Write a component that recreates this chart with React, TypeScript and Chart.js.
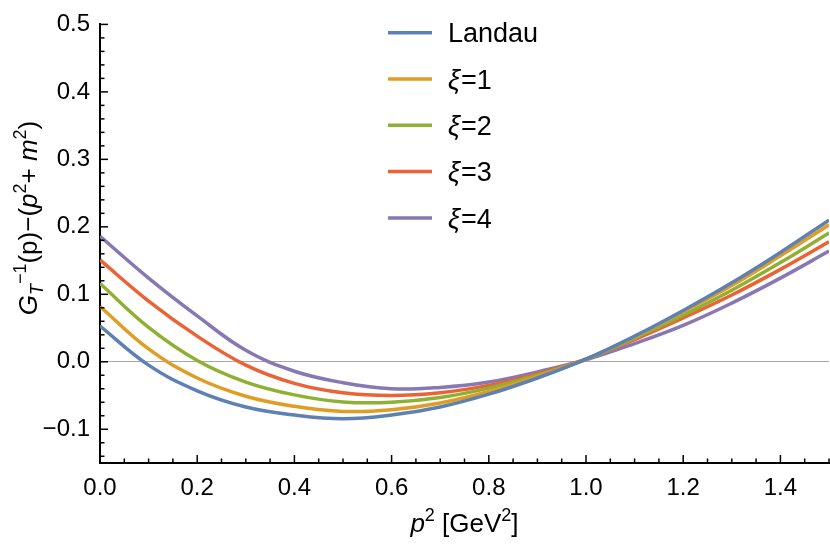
import React, { useEffect, useRef } from "react";
import { Chart, registerables } from "chart.js";

Chart.register(...registerables);

// p^2 grid (GeV^2)
const P2 = [0, 0.1, 0.2, 0.3, 0.4, 0.5, 0.6, 0.7, 0.8, 0.9, 1.0, 1.1, 1.2, 1.3, 1.4, 1.5];

const LANDAU = [0.053, -0.005, -0.043, -0.067, -0.079, -0.0845, -0.079, -0.067, -0.048, -0.024, 0.004, 0.038, 0.076, 0.117, 0.162, 0.21];
const XI1 = [0.082, 0.019, -0.024, -0.051, -0.066, -0.0735, -0.071, -0.061, -0.044, -0.022, 0.004, 0.037, 0.074, 0.113, 0.157, 0.203];
const XI2 = [0.116, 0.051, 0.002, -0.03, -0.049, -0.0595, -0.06, -0.053, -0.039, -0.02, 0.004, 0.035, 0.069, 0.106, 0.147, 0.191];
const XI3 = [0.151, 0.09, 0.038, -0.005, -0.032, -0.046, -0.05, -0.046, -0.035, -0.018, 0.004, 0.033, 0.065, 0.099, 0.137, 0.178];
const XI4 = [0.186, 0.124, 0.068, 0.017, -0.014, -0.031, -0.04, -0.038, -0.03, -0.015, 0.003, 0.027, 0.054, 0.087, 0.124, 0.164];

const SERIES = [LANDAU, XI1, XI2, XI3, XI4];
const LABELS = ["Landau", "ξ=1", "ξ=2", "ξ=3", "ξ=4"];
const COLORS = ["#5E81B5", "#E19C24", "#8FB032", "#EB6235", "#8778B3"];

const X_TICKS = [0, 0.2, 0.4, 0.6, 0.8, 1.0, 1.2, 1.4];
const Y_TICKS = [-0.1, 0, 0.1, 0.2, 0.3, 0.4, 0.5];

const FONT = '"Liberation Sans", Arial, Helvetica, sans-serif';

type Run = { t: string; italic?: boolean; size: number; dy: number };

const Y_TITLE: Run[] = [
  { t: "G", italic: true, size: 26, dy: 0 },
  { t: "T", italic: true, size: 18, dy: 6 },
  { t: "−1", size: 18, dy: -11 },
  { t: "(p)−(", size: 26, dy: 0 },
  { t: "p", italic: true, size: 26, dy: 0 },
  { t: "2", size: 18, dy: -11 },
  { t: "+ ", size: 26, dy: 0 },
  { t: "m", italic: true, size: 26, dy: 0 },
  { t: "2", size: 18, dy: -11 },
  { t: ")", size: 26, dy: 0 },
];

const X_TITLE: Run[] = [
  { t: "p", italic: true, size: 26, dy: 0 },
  { t: "2", size: 18, dy: -11 },
  { t: " [GeV", size: 26, dy: 0 },
  { t: "2", size: 18, dy: -11 },
  { t: "]", size: 26, dy: 0 },
];

function fontOf(r: Run) {
  return `${r.italic ? "italic " : ""}${r.size}px ${FONT}`;
}

function drawRuns(ctx: CanvasRenderingContext2D, runs: Run[]) {
  let total = 0;
  for (const r of runs) {
    ctx.font = fontOf(r);
    total += ctx.measureText(r.t).width;
  }
  let x = -total / 2;
  ctx.textAlign = "left";
  ctx.textBaseline = "alphabetic";
  for (const r of runs) {
    ctx.font = fontOf(r);
    ctx.fillText(r.t, x, r.dy);
    x += ctx.measureText(r.t).width;
  }
}

const decorPlugin = {
  id: "decor",
  afterDraw(chart: any) {
    const { ctx, chartArea, scales } = chart;
    const xs = scales.x;
    const ys = scales.y;
    ctx.save();
    // inward ticks
    ctx.strokeStyle = "#000";
    ctx.lineWidth = 1.5;
    for (let i = 0; i <= 30; i++) {
      const px = xs.getPixelForValue(i * 0.05);
      const len = i % 4 === 0 ? 8 : 4.5;
      ctx.beginPath();
      ctx.moveTo(px, chartArea.bottom);
      ctx.lineTo(px, chartArea.bottom - len);
      ctx.stroke();
    }
    for (let i = -7; i <= 25; i++) {
      const py = ys.getPixelForValue(i * 0.02);
      const len = i % 5 === 0 ? 8 : 4.5;
      ctx.beginPath();
      ctx.moveTo(chartArea.left, py);
      ctx.lineTo(chartArea.left + len, py);
      ctx.stroke();
    }

    // axis titles
    ctx.fillStyle = "#000";
    ctx.save();
    ctx.translate((chartArea.left + chartArea.right) / 2, 532);
    drawRuns(ctx, X_TITLE);
    ctx.restore();

    ctx.save();
    ctx.translate(37, 218);
    ctx.rotate(-Math.PI / 2);
    drawRuns(ctx, Y_TITLE);
    ctx.restore();

    // legend
    const size = 27;
    chart.data.datasets.forEach((ds: any, i: number) => {
      const ly = 32.7 + i * 46.3;
      ctx.strokeStyle = ds.borderColor;
      ctx.lineWidth = 3.5;
      ctx.beginPath();
      ctx.moveTo(388, ly);
      ctx.lineTo(432, ly);
      ctx.stroke();
      const label: string = ds.label;
      const base = ly + (size * 0.716) / 2;
      ctx.fillStyle = "#000";
      ctx.textAlign = "left";
      ctx.textBaseline = "alphabetic";
      let x = 448;
      if (label.startsWith("ξ")) {
        ctx.font = `italic ${size}px ${FONT}`;
        ctx.fillText("ξ", x, base);
        x += ctx.measureText("ξ").width + 1;
        ctx.font = `${size}px ${FONT}`;
        ctx.fillText(label.slice(1), x, base);
      } else {
        ctx.font = `${size}px ${FONT}`;
        ctx.fillText(label, x, base);
      }
    });
    ctx.restore();
  },
};

const fmt = (v: number) => (v < -1e-9 ? "−" : "") + Math.abs(v).toFixed(1);

export default function App() {
  const ref = useRef<HTMLCanvasElement | null>(null);

  useEffect(() => {
    document.body.style.margin = "0";
    if (!ref.current) return;
    const chart = new Chart(ref.current, {
      type: "line",
      data: {
        datasets: SERIES.map((s, i) => ({
          label: LABELS[i],
          data: P2.map((p, j) => ({ x: p, y: s[j] })),
          borderColor: COLORS[i],
          backgroundColor: COLORS[i],
          borderWidth: 3.5,
          pointRadius: 0,
          tension: 0.4,
          fill: false,
        })),
      },
      options: {
        animation: false,
        responsive: false,
        devicePixelRatio: 1,
        layout: { padding: { top: 15, right: 1, left: 0, bottom: 0 } },
        plugins: {
          legend: { display: false },
          tooltip: { enabled: false },
        },
        scales: {
          x: {
            type: "linear",
            min: 0,
            max: 1.5,
            afterBuildTicks: (s: any) => {
              s.ticks = X_TICKS.map((v) => ({ value: v }));
            },
            afterFit: (s: any) => {
              s.height = 86;
            },
            grid: { display: false },
            border: { display: true, color: "#000", width: 2 },
            ticks: {
              color: "#000",
              font: { family: FONT, size: 24 },
              padding: 3,
              maxRotation: 0,
              autoSkip: false,
              callback: (v: any) => fmt(Number(v)),
            },
          },
          y: {
            type: "linear",
            min: -0.15,
            max: 0.5,
            afterBuildTicks: (s: any) => {
              s.ticks = Y_TICKS.map((v) => ({ value: v }));
            },
            afterFit: (s: any) => {
              s.width = 100;
            },
            grid: {
              display: true,
              drawTicks: false,
              lineWidth: 1,
              color: (c: any) =>
                c.tick && Math.abs(c.tick.value) < 1e-9 ? "#a8a8a8" : "rgba(0,0,0,0)",
            },
            border: { display: true, color: "#000", width: 2 },
            ticks: {
              color: "#000",
              font: { family: FONT, size: 24 },
              padding: 10,
              autoSkip: false,
              callback: (v: any) => fmt(Number(v)),
            },
          },
        },
      },
      plugins: [decorPlugin],
    });
    return () => chart.destroy();
  }, []);

  return (
    <div style={{ width: 830, height: 549 }}>
      <canvas ref={ref} width={830} height={549} style={{ display: "block" }} />
    </div>
  );
}
